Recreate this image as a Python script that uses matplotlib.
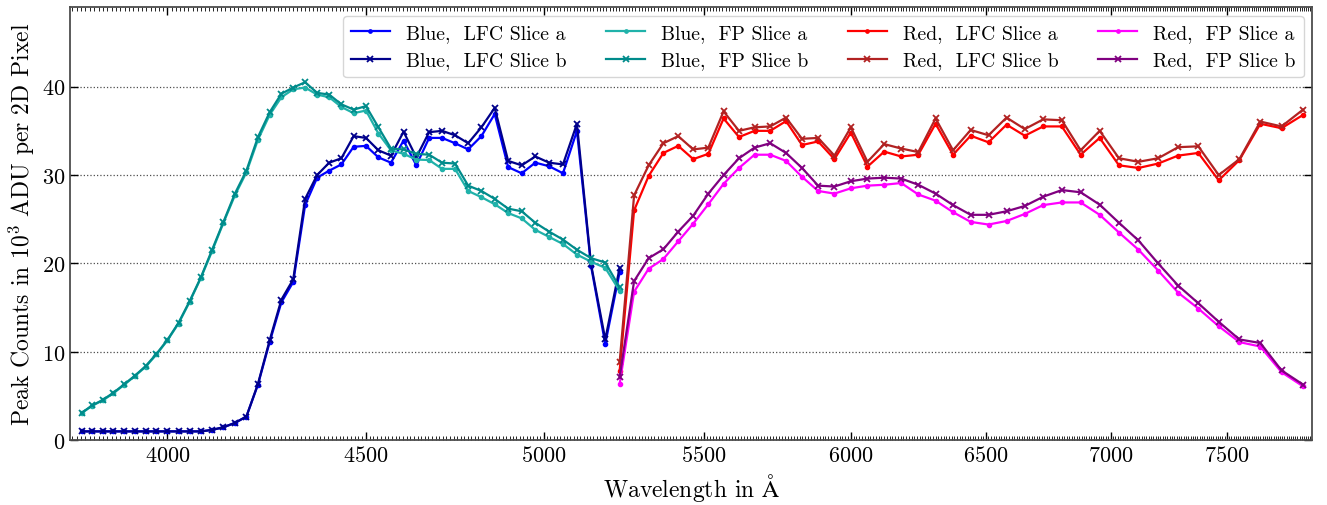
"""Peak counts per echelle order for the blue and red arms (LFC and FP)."""
import matplotlib

matplotlib.use("Agg")
import matplotlib.pyplot as plt
from matplotlib.ticker import FixedLocator, NullFormatter, ScalarFormatter
import numpy as np

plt.rcParams["font.family"] = "serif"
plt.rcParams["font.serif"] = ["cmr10", "DejaVu Serif"]
plt.rcParams["mathtext.fontset"] = "cm"
plt.rcParams["axes.formatter.use_mathtext"] = True
plt.rcParams["axes.unicode_minus"] = False

# order centre wavelengths (Angstrom)
blue_wave = [
    3801.2, 3825.0, 3849.1, 3873.4, 3898.1, 3923.1, 3948.4, 3974.0, 4000.0,
    4026.3, 4053.0, 4080.0, 4107.4, 4135.1, 4163.3, 4191.8, 4220.7, 4250.0,
    4279.7, 4309.9, 4340.4, 4371.4, 4402.9, 4434.8, 4467.2, 4500.0, 4533.3,
    4567.2, 4601.5, 4636.4, 4671.8, 4707.7, 4744.2, 4781.3, 4818.9, 4857.1,
    4896.0, 4935.5, 4975.6, 5016.4, 5057.9, 5100.0, 5142.9, 5186.4, 5230.8,
]
red_wave = [
    5230.8, 5275.9, 5321.7, 5368.4, 5415.9, 5464.3, 5513.5, 5563.6, 5614.7,
    5666.7, 5719.6, 5773.6, 5828.6, 5884.6, 5941.7, 6000.0, 6059.4, 6120.0,
    6181.8, 6244.9, 6309.3, 6375.0, 6442.1, 6510.6, 6580.6, 6652.2, 6725.3,
    6800.0, 6876.4, 6954.5, 7034.5, 7116.3, 7200.0, 7285.7, 7373.5, 7463.4,
    7555.6, 7650.0, 7746.8, 7846.2,
]

# peak counts in 1e3 ADU
blue_lfc_a = [
    1.0, 1.0, 1.0, 1.0, 1.0, 1.0, 1.0, 1.0, 1.0, 1.0, 1.0, 1.0, 1.17, 1.47,
    1.96, 2.68, 6.3, 11.1, 15.6, 17.9, 26.6, 29.7, 30.5, 31.2, 33.2, 33.3,
    32.0, 31.4, 33.9, 31.1, 34.2, 34.2, 33.6, 32.9, 34.4, 36.9, 30.9, 30.2,
    31.4, 31.0, 30.2, 35.0, 19.7, 10.9, 19.0,
]
blue_lfc_b = [
    1.0, 1.0, 1.0, 1.0, 1.0, 1.0, 1.0, 1.0, 1.0, 1.0, 1.0, 1.0, 1.17, 1.47,
    1.96, 2.68, 6.38, 11.3, 15.9, 18.2, 27.3, 30.0, 31.4, 31.9, 34.4, 34.2,
    32.8, 32.2, 34.9, 32.0, 34.85, 35.0, 34.5, 33.6, 35.4, 37.6, 31.6, 31.1,
    32.1, 31.4, 31.2, 35.8, 19.9, 11.4, 19.5,
]
blue_fp_a = [
    3.05, 3.9, 4.5, 5.3, 6.25, 7.25, 8.3, 9.7, 11.3, 13.2, 15.65, 18.35,
    21.4, 24.6, 27.7, 30.3, 34.0, 36.8, 38.8, 39.7, 39.9, 39.1, 38.8, 37.7,
    37.0, 37.3, 34.7, 32.8, 32.4, 31.75, 31.7, 30.7, 30.7, 28.2, 27.5, 26.7,
    25.7, 25.1, 23.8, 23.0, 22.2, 21.0, 20.2, 19.5, 16.9,
]
blue_fp_b = [
    3.09, 3.93, 4.56, 5.36, 6.31, 7.29, 8.38, 9.77, 11.36, 13.28, 15.74,
    18.42, 21.55, 24.7, 27.9, 30.5, 34.3, 37.1, 39.2, 39.9, 40.5, 39.3, 39.1,
    38.0, 37.4, 37.8, 35.4, 33.0, 32.9, 32.4, 32.3, 31.4, 31.3, 28.8, 28.2,
    27.3, 26.2, 25.9, 24.6, 23.6, 22.7, 21.55, 20.6, 20.1, 17.3,
]
red_lfc_a = [
    7.85, 26.0, 29.9, 32.5, 33.3, 31.8, 32.4, 36.4, 34.3, 35.0, 35.0, 36.1,
    33.4, 33.8, 31.8, 34.8, 30.95, 32.65, 32.1, 32.3, 35.8, 32.3, 34.45, 33.7,
    35.7, 34.45, 35.5, 35.5, 32.3, 34.2, 31.1, 30.8, 31.3, 32.2, 32.5, 29.4,
    31.7, 35.8, 35.3, 36.8,
]
red_lfc_b = [
    8.8, 27.7, 31.1, 33.6, 34.4, 32.9, 33.1, 37.2, 35.0, 35.4, 35.5, 36.5,
    34.1, 34.2, 32.2, 35.4, 31.5, 33.5, 33.0, 32.6, 36.4, 32.8, 35.1, 34.5,
    36.5, 35.2, 36.3, 36.2, 32.8, 35.0, 31.9, 31.5, 31.9, 33.15, 33.25, 30.0,
    31.8, 36.05, 35.5, 37.4,
]
red_fp_a = [
    6.34, 16.8, 19.4, 20.5, 22.5, 24.5, 26.7, 29.0, 30.8, 32.3, 32.3, 31.6,
    29.8, 28.2, 27.9, 28.5, 28.8, 28.9, 29.1, 27.8, 27.1, 25.8, 24.7, 24.4,
    24.8, 25.6, 26.6, 26.9, 26.9, 25.5, 23.5, 21.55, 19.2, 16.7, 14.9, 12.9,
    11.1, 10.6, 7.7, 6.1,
]
red_fp_b = [
    7.1, 18.0, 20.6, 21.6, 23.6, 25.4, 27.9, 30.0, 31.9, 33.1, 33.6, 32.5,
    30.8, 28.8, 28.7, 29.3, 29.6, 29.7, 29.6, 28.9, 27.9, 26.6, 25.5, 25.5,
    25.9, 26.5, 27.55, 28.3, 28.05, 26.65, 24.6, 22.6, 20.0, 17.5, 15.5, 13.4,
    11.4, 11.0, 7.9, 6.3,
]

x_ticks = [4000, 4500, 5000, 5500, 6000, 6500, 7000, 7500]
y_ticks = [0, 10, 20, 30, 40]

series = [
    (blue_wave, blue_lfc_a, "blue", ".", "Blue,  LFC Slice a"),
    (blue_wave, blue_lfc_b, "darkblue", "x", "Blue,  LFC Slice b"),
    (blue_wave, blue_fp_a, "lightseagreen", ".", "Blue,  FP Slice a"),
    (blue_wave, blue_fp_b, "darkcyan", "x", "Blue,  FP Slice b"),
    (red_wave, red_lfc_a, "red", ".", "Red,  LFC Slice a"),
    (red_wave, red_lfc_b, "firebrick", "x", "Red,  LFC Slice b"),
    (red_wave, red_fp_a, "magenta", ".", "Red,  FP Slice a"),
    (red_wave, red_fp_b, "purple", "x", "Red,  FP Slice b"),
]

fig = plt.figure(figsize=(13.27, 5.06), dpi=100)
ax = fig.add_axes([0.053, 0.128, 0.936, 0.856])

for wave, counts, color, marker, label in series:
    ax.plot(wave, counts, color=color, marker=marker, markersize=5 if marker == "x" else 6,
            markeredgewidth=1.3 if marker == "x" else 1.0, linewidth=1.6, label=label)

ax.set_xscale("log")
ax.set_xlim(3776, 7890)
ax.set_ylim(0, 49)

ax.xaxis.set_major_locator(FixedLocator(x_ticks))
ax.xaxis.set_major_formatter(ScalarFormatter())
ax.xaxis.set_minor_locator(FixedLocator(np.arange(3780, 7890, 10)))
ax.xaxis.set_minor_formatter(NullFormatter())
ax.set_yticks(y_ticks)

ax.tick_params(which="both", direction="in", top=True, right=True, labelsize=16)
ax.tick_params(which="major", length=6, width=1.0)
ax.tick_params(which="minor", length=3, width=0.6)
ax.yaxis.grid(True, linestyle=":", color="0.3", linewidth=0.9)
for spine in ax.spines.values():
    spine.set_linewidth(1.3)
    spine.set_color("0.3")

ax.set_xlabel(r"Wavelength in $\mathrm{\AA}$", fontsize=17)
ax.set_ylabel(r"Peak Counts in $10^3$ ADU per 2D Pixel", fontsize=17)

ax.legend(loc="upper right", ncol=4, fontsize=14.2, markerscale=0.8,
          handlelength=2.0, columnspacing=2.0, borderaxespad=0.45)

fig.savefig("out.png", dpi=100)
